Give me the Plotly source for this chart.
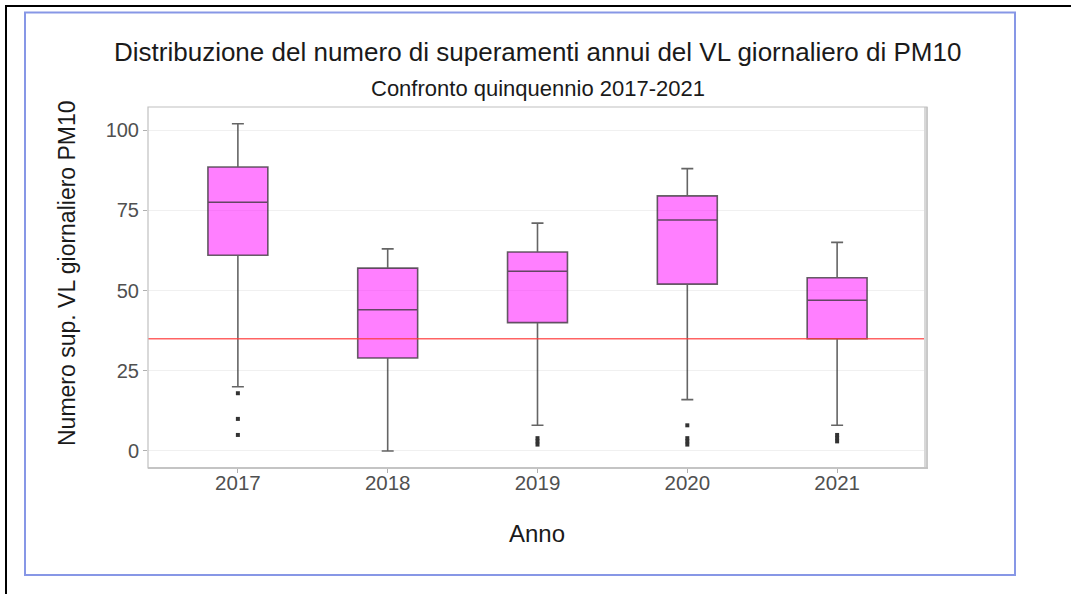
import plotly.graph_objects as go

# ---- data ----
years = ["2017", "2018", "2019", "2020", "2021"]
q1 = [61, 29, 40, 52, 35]
median = [77.5, 44, 56, 72, 47]
q3 = [88.5, 57, 62, 79.5, 54]
lower_whisker = [20, 0, 8, 16, 8]
upper_whisker = [102, 63, 71, 88, 65]
outlier_years = ["2017", "2017", "2017", "2019", "2019", "2019",
                 "2020", "2020", "2020", "2020", "2021", "2021", "2021"]
outlier_values = [18, 10, 5, 4, 3, 2, 8, 4, 3, 2, 5, 4, 3]
threshold = 35
y_ticks = [0, 25, 50, 75, 100]

title = "Distribuzione del numero di superamenti annui del VL giornaliero di PM10"
subtitle = "Confronto quinquennio 2017-2021"
x_title = "Anno"
y_title = "Numero sup. VL giornaliero PM10"

# ---- layout geometry (pixels) ----
W, H = 1071, 594
L, R, T, B = 148, 927, 107, 468
pw, ph = R - L, B - T


def px(x):
    return (x - L) / pw


def py(y):
    return (B - y) / ph


FONT = "Liberation Sans, Arial, sans-serif"

fig = go.Figure()
fig.add_trace(go.Box(
    x=years, q1=q1, median=median, q3=q3,
    lowerfence=lower_whisker, upperfence=upper_whisker,
    fillcolor="rgba(255,0,255,0.5)",
    line=dict(color="rgba(50,50,50,0.75)", width=1.6),
    width=0.4, whiskerwidth=0.2, boxpoints=False,
    showlegend=False, hoverinfo="skip",
))
fig.add_trace(go.Scatter(
    x=outlier_years, y=outlier_values, mode="markers",
    marker=dict(symbol="square", size=4, color="#333333"),
    showlegend=False, hoverinfo="skip",
))

shapes = [
    # threshold line
    dict(type="line", xref="paper", yref="y", x0=0, x1=1, y0=threshold, y1=threshold,
         line=dict(color="rgba(255,60,60,0.8)", width=1.6), layer="above"),
    # panel shadow right / bottom
    dict(type="line", xref="paper", yref="paper", x0=px(R - 1), x1=px(R - 1), y0=py(B + 1), y1=py(T),
         line=dict(color="#d8d8d8", width=4)),
    dict(type="line", xref="paper", yref="paper", x0=px(L), x1=px(R + 1), y0=py(B), y1=py(B),
         line=dict(color="#c8c8c8", width=2)),
    # panel border
    dict(type="rect", xref="paper", yref="paper", x0=0, x1=1, y0=0, y1=1,
         line=dict(color="#c0c0c0", width=1.2)),
    # blue frame
    dict(type="rect", xref="paper", yref="paper", x0=px(25), x1=px(1015), y0=py(575), y1=py(12.5),
         line=dict(color="#8797e6", width=2)),
    # black outer lines
    dict(type="line", xref="paper", yref="paper", x0=px(5), x1=px(1075), y0=py(6), y1=py(6),
         line=dict(color="black", width=2)),
    dict(type="line", xref="paper", yref="paper", x0=px(6), x1=px(6), y0=py(5), y1=py(600),
         line=dict(color="black", width=2)),
]

annotations = [
    dict(text=title, xref="paper", yref="paper", x=px(537), y=py(52), showarrow=False,
         xanchor="center", yanchor="middle", font=dict(family=FONT, size=26, color="#1a1a1a")),
    dict(text=subtitle, xref="paper", yref="paper", x=px(538), y=py(88), showarrow=False,
         xanchor="center", yanchor="middle", font=dict(family=FONT, size=22, color="#1a1a1a")),
    dict(text=x_title, xref="paper", yref="paper", x=px(537), y=py(533), showarrow=False,
         xanchor="center", yanchor="middle", font=dict(family=FONT, size=24, color="#1a1a1a")),
    dict(text=y_title, xref="paper", yref="paper", x=px(67), y=py(273), showarrow=False,
         textangle=-90, xanchor="center", yanchor="middle",
         font=dict(family=FONT, size=23, color="#1a1a1a")),
]

fig.update_layout(
    width=W, height=H,
    margin=dict(l=L, r=W - R, t=T, b=H - B, pad=0),
    paper_bgcolor="white", plot_bgcolor="white",
    shapes=shapes, annotations=annotations,
    font=dict(family=FONT),
)
fig.update_xaxes(
    type="category", range=[-0.6, 4.6], showgrid=False, zeroline=False,
    ticks="outside", ticklen=4, tickcolor="#b0b0b0", tickwidth=1,
    tickfont=dict(family=FONT, size=20.5, color="#505050"),
    ticklabelstandoff=-8,
    showline=False,
)
fig.update_yaxes(
    range=[-5.3, 107.2], tickvals=y_ticks, showgrid=True, gridcolor="#f0f0f0", gridwidth=1,
    zeroline=False, ticks="outside", ticklen=4, tickcolor="#b0b0b0", tickwidth=1,
    tickfont=dict(family=FONT, size=20, color="#505050"),
    showline=False,
)

fig.write_html("out.html", config={"displayModeBar": False},
               post_script="document.body.style.margin='0';")
